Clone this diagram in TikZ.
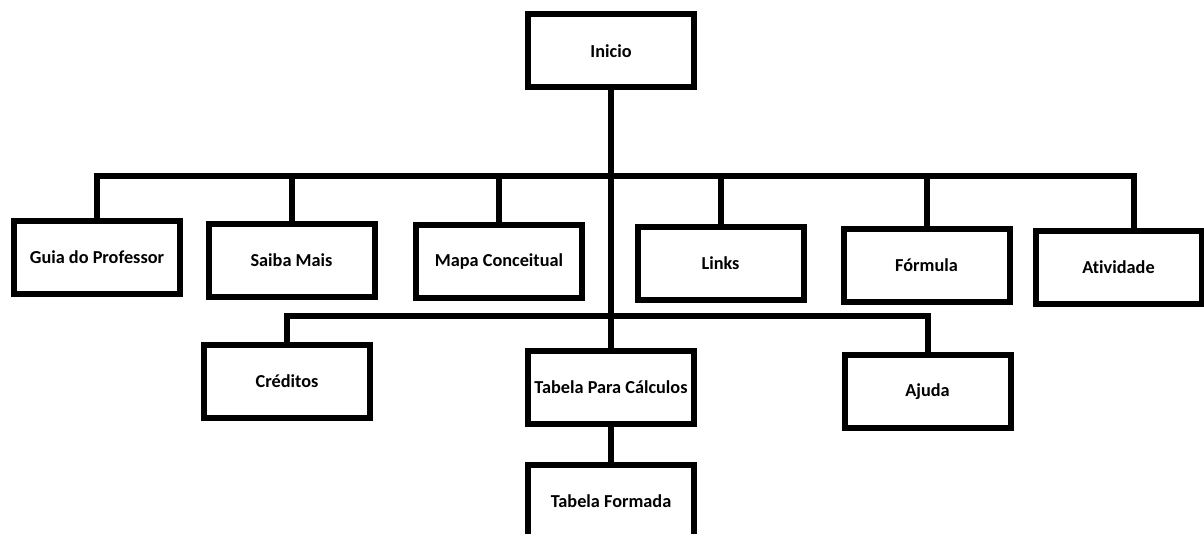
\documentclass[tikz,border=0pt]{standalone}
\usepackage{fontspec}
\setmainfont[Ligatures=NoCommon]{Carlito}
\begin{document}
\begin{tikzpicture}[x=0.75pt,y=-0.75pt,
caixa/.style={draw, line width=4.5pt, minimum width=124.5pt, minimum height=54.75pt, inner sep=0pt, font=\fontsize{13.7}{16}\selectfont\bfseries},
ligacao/.style={line width=4.5pt}]
\clip (0,0) rectangle (1204,534);
\node[caixa] (inicio) at (611,51) {Inicio};
\foreach \nome/\x/\y/\texto in {guia/97/257.5/Guia do Professor, saiba/291.5/260.5/Saiba Mais, mapa/499/262/Mapa Conceitual, links/720.5/263.5/Links, formula/926.5/265.5/Fórmula, atividade/1118.5/267.5/Atividade}{
\node[caixa] (\nome) at (\x,\y) {\texto};
}
\foreach \nome/\x/\y/\texto in {creditos/287/381.5/Créditos, tabela/611/387.5/Tabela Para Cálculos, ajuda/927.5/391.5/Ajuda, formada/611/501.5/Tabela Formada}{
\node[caixa] (\nome) at (\x,\y) {\texto};
}
\coordinate (bus1) at (611,176);
\coordinate (bus2) at (611,316);
\draw[ligacao] (inicio.south) -- (tabela.north);
\draw[ligacao] (guia.north) |- (bus1) -| ([xshift=11.25pt]atividade.north);
\foreach \nome in {saiba, mapa, links, formula}{
\draw[ligacao] (\nome.north) -- (\nome.north |- bus1);
}
\draw[ligacao] (creditos.north) |- (bus2) -| (ajuda.north);
\draw[ligacao] (tabela.south) -- (formada.north);
\end{tikzpicture}
\end{document}
